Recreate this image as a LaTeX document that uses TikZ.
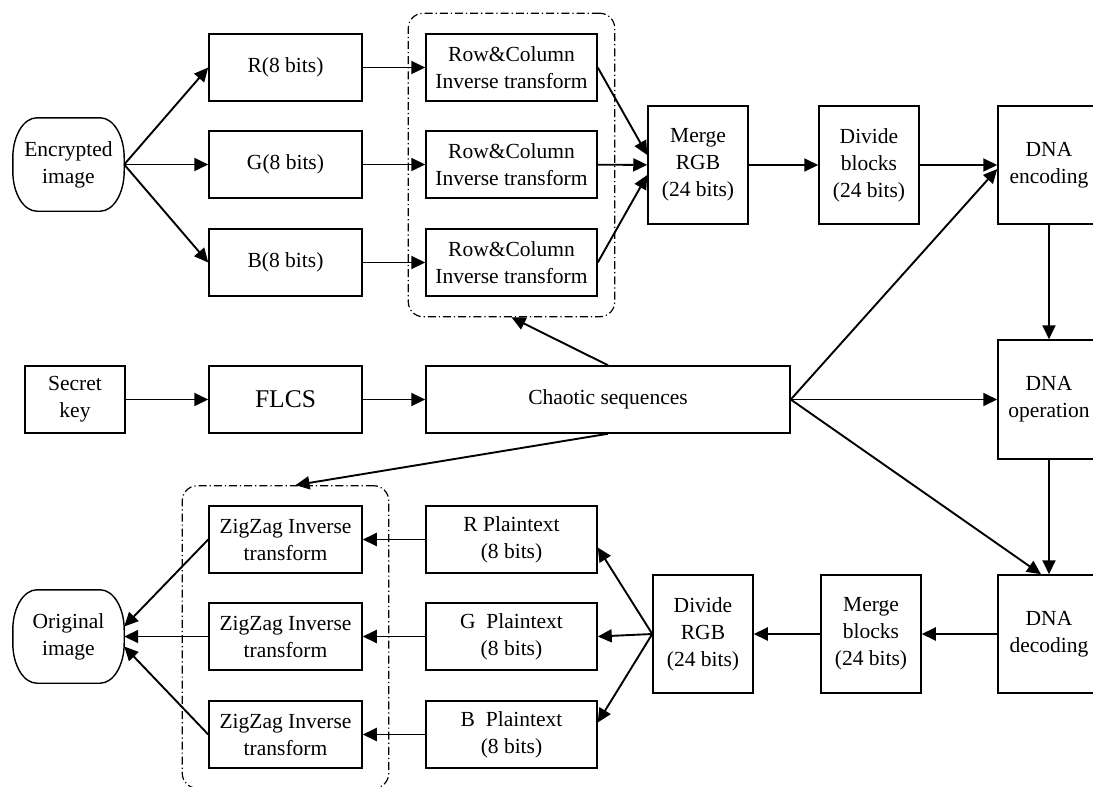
\documentclass[tikz,border=0pt]{standalone}
\usepackage{fontspec}
\setmainfont{Liberation Serif}
\usetikzlibrary{arrows.meta}
\usetikzlibrary{positioning}
\usetikzlibrary{fit}

% outline of a start/end node: flat top and bottom, curved sides
\newcommand{\drawterm}[1]{%
	\draw[line width=1.4pt] ([xshift=24pt]#1.north west) -- ([xshift=-24pt]#1.north east)
	arc[start angle=90,end angle=0,x radius=24pt,y radius=40pt] -- ([yshift=40pt]#1.south east)
	arc[start angle=0,end angle=-90,x radius=24pt,y radius=40pt] -- ([xshift=24pt]#1.south west)
	arc[start angle=-90,end angle=-180,x radius=24pt,y radius=40pt] -- ([yshift=-40pt]#1.north west)
	arc[start angle=180,end angle=90,x radius=24pt,y radius=40pt] -- cycle;}

\begin{document}
\begin{tikzpicture}
	[x=1pt,y=-1pt,>={Triangle[length=14pt,width=13pt]},
	every node/.style={font=\fontsize{21.5}{27}\selectfont,align=center,inner sep=0pt},
	box/.style={draw,line width=1.5pt,minimum width=153pt,minimum height=67pt},
	rcbox/.style={box,minimum width=171pt},
	tallbox/.style={box,minimum width=100pt,minimum height=118pt},
	dnabox/.style={box,minimum width=102pt,minimum height=118pt},
	term/.style={minimum width=111pt,minimum height=93pt},
	group/.style={draw,line width=1.2pt,rounded corners=15pt,dash pattern=on 8pt off 3pt on 1.2pt off 3pt},
	flow/.style={->,line width=1.9pt}]
	\useasboundingbox (0,0) rectangle (1093,787);
	% encryption side
	\node[term] (enc) at (68.5,164.5) {Encrypted\\image};
	\node[box] (rbit) at (285.5,67.5) {R(8 bits)};
	\node[box] (gbit) at (285.5,164.5) {G(8 bits)};
	\node[box] (bbit) at (285.5,262.5) {B(8 bits)};
	\node[rcbox] (rc1) at (511.5,67.5) {Row\&Column\\Inverse transform};
	\node[rcbox] (rc2) at (511.5,164.5) {Row\&Column\\Inverse transform};
	\node[rcbox] (rc3) at (511.5,262.5) {Row\&Column\\Inverse transform};
	\node[group,fit=(rc1)(rc3),inner xsep=17pt,inner ysep=20pt] (grp1) {};
	\node[tallbox] (mrgb) at (698,165) {Merge\\RGB\\(24 bits)};
	\node[tallbox] (divb) at (869,165) {Divide\\blocks\\(24 bits)};
	\node[dnabox] (dnaenc) at (1049,165) {DNA\\encoding};
	% key and chaos
	\node[box,minimum width=100pt] (key) at (75,399.5) {Secret\\key};
	\node[box,font=\fontsize{25.5}{30}\selectfont] (flcs) at (285.5,399.5) {FLCS};
	\node[box,minimum width=364pt] (chaos) at (608,399.5) {Chaotic sequences};
	\node[dnabox,minimum height=119pt] (dnaop) at (1049,399.5) {DNA\\operation};
	% decryption side
	\node[dnabox] (dnadec) at (1049,634) {DNA\\decoding};
	\node[tallbox] (mblk) at (871,634) {Merge\\blocks\\(24 bits)};
	\node[tallbox] (drgb) at (703,634) {Divide\\RGB\\(24 bits)};
	\node[rcbox] (rpt) at (511.5,539.5) {R Plaintext\\(8 bits)};
	\node[rcbox] (gpt) at (511.5,636.5) {G~~Plaintext\\(8 bits)};
	\node[rcbox] (bpt) at (511.5,734.5) {B~~Plaintext\\(8 bits)};
	\node[box] (zz1) at (285.5,539.5) {ZigZag Inverse\\transform};
	\node[box] (zz2) at (285.5,636.5) {ZigZag Inverse\\transform};
	\node[box] (zz3) at (285.5,734.5) {ZigZag Inverse\\transform};
	\node[group,fit=(zz1)(zz3),inner xsep=26pt,inner ysep=19.5pt] (grp2) {};
	\node[term] (orig) at (68.5,636.5) {Original\\image};
	\drawterm{enc}
	\drawterm{orig}
	
	\foreach \from/\to in
	{enc.east/rbit.west, enc.east/gbit.west, enc.east/bbit.west,
	rbit/rc1, gbit/rc2, bbit/rc3, rc2/mrgb, mrgb/divb, divb/dnaenc,
	key/flcs, flcs/chaos, chaos.east/dnaop.west,
	dnaenc/dnaop, dnaop/dnadec, dnadec/mblk, mblk/drgb, drgb.west/gpt.east,
	rpt/zz1, gpt/zz2, bpt/zz3, zz2/orig, chaos.north/grp1.south}
	\draw[flow] (\from) -- (\to);
	\draw[flow] (rc1.east) -- ([yshift=10pt]mrgb.west);
	\draw[flow] (rc3.east) -- ([yshift=-10pt]mrgb.west);
	\draw[flow] (chaos.east) -- ([yshift=-4pt]dnaenc.west);
	\draw[flow] (chaos.east) -- ([xshift=-8pt]dnadec.north);
	\draw[flow] (chaos.south) -- ([xshift=10pt]grp2.north);
	\draw[flow] (drgb.west) -- ([yshift=-8pt]rpt.east);
	\draw[flow] (drgb.west) -- ([yshift=12pt]bpt.east);
	\draw[flow] (zz1.west) -- ([yshift=10pt]orig.east);
	\draw[flow] (zz3.west) -- ([yshift=-10pt]orig.east);
\end{tikzpicture}
\end{document}
